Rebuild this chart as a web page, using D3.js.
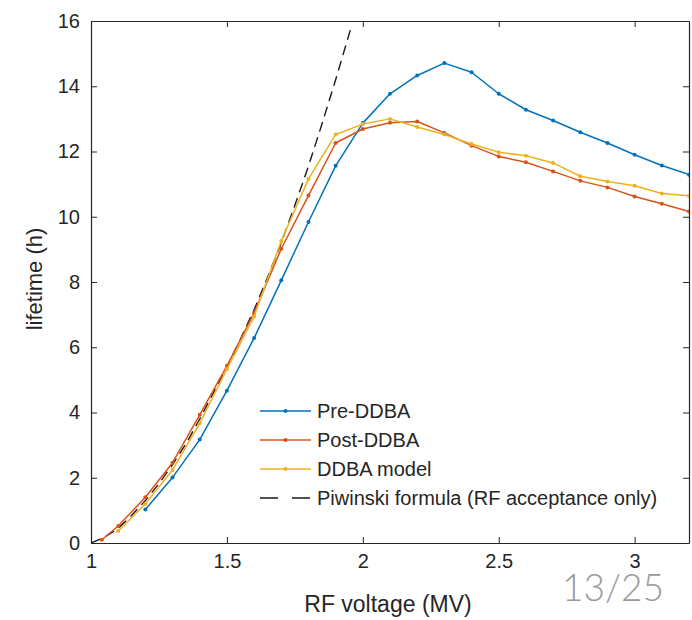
<!DOCTYPE html>
<html>
<head>
<meta charset="utf-8">
<script src="https://cdn.jsdelivr.net/npm/d3@7"></script>
<style>
  html, body { margin: 0; padding: 0; background: #fff; }
  svg { display: block; }
  text { font-family: "Liberation Sans", Arial, sans-serif; fill: #262626; }
</style>
</head>
<body>
<svg id="chart" width="692" height="620"></svg>
<script>
// RF voltage scan (MV) and measured / modelled beam lifetime (h)
const preVoltage  = [1.2, 1.3, 1.4, 1.5, 1.6, 1.7, 1.8, 1.9, 2.0, 2.1, 2.2, 2.3, 2.4, 2.5, 2.6, 2.7, 2.8, 2.9, 3.0, 3.1, 3.2];
const preLifetime = [1.03, 2.01, 3.17, 4.67, 6.28, 8.05, 9.84, 11.56, 12.87, 13.77, 14.33, 14.71, 14.43, 13.77, 13.28, 12.95, 12.59, 12.26, 11.90, 11.57, 11.29];

const postVoltage  = [1.04, 1.1, 1.2, 1.3, 1.4, 1.5, 1.6, 1.7, 1.8, 1.9, 2.0, 2.1, 2.2, 2.3, 2.4, 2.5, 2.6, 2.7, 2.8, 2.9, 3.0, 3.1, 3.2];
const postLifetime = [0.10, 0.52, 1.40, 2.46, 3.93, 5.43, 7.05, 9.02, 10.65, 12.26, 12.69, 12.88, 12.92, 12.57, 12.18, 11.85, 11.67, 11.39, 11.10, 10.90, 10.62, 10.40, 10.16];

const modelVoltage  = [1.1, 1.2, 1.3, 1.4, 1.5, 1.6, 1.7, 1.8, 1.9, 2.0, 2.1, 2.2, 2.3, 2.4, 2.5, 2.6, 2.7, 2.8, 2.9, 3.0, 3.1, 3.2];
const modelLifetime = [0.37, 1.20, 2.24, 3.67, 5.33, 6.94, 9.26, 11.16, 12.52, 12.84, 13.00, 12.75, 12.52, 12.23, 11.98, 11.87, 11.65, 11.24, 11.08, 10.95, 10.71, 10.64];

const piwinskiVoltage  = [1.0, 1.05, 1.1, 1.15, 1.2, 1.25, 1.3, 1.35, 1.4, 1.45, 1.5, 1.55, 1.6, 1.65, 1.7, 1.75, 1.8, 1.85, 1.9, 1.955];
const piwinskiLifetime = [0.0, 0.18, 0.45, 0.85, 1.30, 1.82, 2.40, 3.05, 3.80, 4.60, 5.40, 6.25, 7.15, 8.15, 9.20, 10.35, 11.55, 12.85, 14.20, 15.75];

const xTicks = [1, 1.5, 2, 2.5, 3];
const yTicks = [0, 2, 4, 6, 8, 10, 12, 14, 16];

const seriesNames = ["Pre-DDBA", "Post-DDBA", "DDBA model", "Piwinski formula (RF acceptance only)"];
const seriesColors = ["#0072BD", "#D95319", "#EDB120", "#1a1a1a"];

const svg = d3.select("#chart");
const plot = { left: 91, right: 689, top: 21, bottom: 543 };

const x = d3.scaleLinear().domain([1, 3.2]).range([plot.left, plot.right]);
const y = d3.scaleLinear().domain([0, 16]).range([plot.bottom, plot.top]);

svg.append("defs").append("clipPath").attr("id", "plotClip")
  .append("rect")
  .attr("x", plot.left).attr("y", plot.top)
  .attr("width", plot.right - plot.left).attr("height", plot.bottom - plot.top);

const axisColor = "#262626";
const tickLen = 6;

// axes with inward ticks, mirrored on top and right
const gx = svg.append("g").attr("transform", `translate(0,${plot.bottom})`)
  .call(d3.axisBottom(x).tickValues(xTicks).tickSizeInner(-tickLen).tickSizeOuter(0).tickPadding(11).tickFormat(d3.format("")));
const gxTop = svg.append("g").attr("transform", `translate(0,${plot.top})`)
  .call(d3.axisTop(x).tickValues(xTicks).tickSizeInner(-tickLen).tickSizeOuter(0).tickFormat(""));
const gy = svg.append("g").attr("transform", `translate(${plot.left},0)`)
  .call(d3.axisLeft(y).tickValues(yTicks).tickSizeInner(-tickLen).tickSizeOuter(0).tickPadding(11));
const gyRight = svg.append("g").attr("transform", `translate(${plot.right},0)`)
  .call(d3.axisRight(y).tickValues(yTicks).tickSizeInner(-tickLen).tickSizeOuter(0).tickFormat(""));

[gx, gxTop, gy, gyRight].forEach(g => {
  g.select(".domain").attr("stroke", axisColor).attr("stroke-width", 1.2);
  g.selectAll(".tick line").attr("stroke", axisColor).attr("stroke-width", 1);
  g.selectAll(".tick text").attr("fill", axisColor).style("font-size", "20px")
    .style("font-family", '"Liberation Sans", Arial, sans-serif');
});
gx.selectAll(".tick text").attr("dy", "0.72em");

// axis labels
svg.append("text")
  .attr("x", 388).attr("y", 612)
  .attr("text-anchor", "middle").style("font-size", "23px")
  .text("RF voltage (MV)");
svg.append("text")
  .attr("transform", `translate(42,${(plot.top + plot.bottom) / 2 - 3}) rotate(-90)`)
  .attr("text-anchor", "middle").style("font-size", "22px")
  .text("lifetime (h)");

// data series
const line = d3.line().x(d => x(d[0])).y(d => y(d[1]));
const lines = svg.append("g").attr("clip-path", "url(#plotClip)");

const measured = [
  { v: preVoltage, t: preLifetime },
  { v: postVoltage, t: postLifetime },
  { v: modelVoltage, t: modelLifetime }
];

lines.append("path")
  .datum(d3.zip(piwinskiVoltage, piwinskiLifetime))
  .attr("d", line).attr("fill", "none")
  .attr("stroke", seriesColors[3]).attr("stroke-width", 1.4)
  .attr("stroke-dasharray", "10,6");

measured.forEach((s, i) => {
  const pts = d3.zip(s.v, s.t);
  lines.append("path").datum(pts)
    .attr("d", line).attr("fill", "none")
    .attr("stroke", seriesColors[i]).attr("stroke-width", 1.5)
    .attr("stroke-linejoin", "round");
  lines.selectAll(null).data(pts).enter().append("circle")
    .attr("cx", d => x(d[0])).attr("cy", d => y(d[1])).attr("r", 2)
    .attr("fill", seriesColors[i]);
});

// legend
const legend = svg.append("g");
const legendRows = [411, 440, 469, 498];
seriesNames.forEach((name, i) => {
  const g = legend.append("g").attr("transform", `translate(0,${legendRows[i]})`);
  if (i < 3) {
    g.append("line").attr("x1", 260).attr("x2", 311).attr("y1", 0).attr("y2", 0)
      .attr("stroke", seriesColors[i]).attr("stroke-width", 1.5);
    g.append("circle").attr("cx", 285.5).attr("cy", 0).attr("r", 2).attr("fill", seriesColors[i]);
  } else {
    g.append("line").attr("x1", 260).attr("x2", 311).attr("y1", 0).attr("y2", 0)
      .attr("stroke", seriesColors[i]).attr("stroke-width", 1.4)
      .attr("stroke-dasharray", "18,14");
  }
  g.append("text").attr("x", 317).attr("y", 0).attr("dy", "0.36em")
    .style("font-size", "20px").text(name);
});

// page number
svg.append("text")
  .attr("x", 664).attr("y", 601).attr("text-anchor", "end")
  .style("font-family", "Lato, 'Open Sans', sans-serif").style("font-weight", 300)
  .style("font-size", "37px").style("fill", "#9a9a9a")
  .text("13/25");
</script>
</body>
</html>
